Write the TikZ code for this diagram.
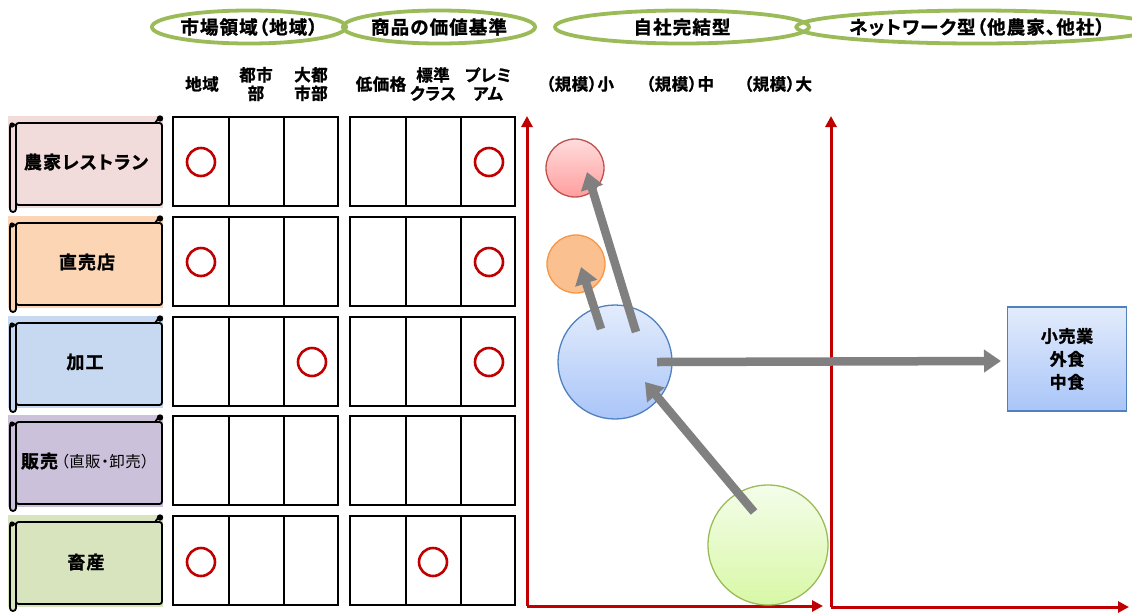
\documentclass[tikz,border=0pt]{standalone}
\usepackage{fontspec}
\setmainfont{Noto Sans CJK JP}[BoldFont={Noto Sans CJK JP Bold}, BoldFeatures={FakeBold=1.2}, RawFeature=+palt]
\usetikzlibrary{arrows.meta,shapes.geometric}
\definecolor{axred}{HTML}{C00000}
\definecolor{hgreen}{HTML}{9BBB59}
\definecolor{rowA}{HTML}{F2DCDB}
\definecolor{rowB}{HTML}{FCD5B5}
\definecolor{rowC}{HTML}{C6D9F1}
\definecolor{rowD}{HTML}{CCC1DA}
\definecolor{rowE}{HTML}{D7E4BD}
\definecolor{arrgray}{HTML}{808080}
\definecolor{bblue}{HTML}{4F81BD}
\definecolor{pinkedge}{HTML}{C0504D}
\definecolor{pinktop}{HTML}{FFDCDC}
\definecolor{pinkbot}{HTML}{FF9E9E}
\definecolor{oredge}{HTML}{F79646}
\definecolor{orfill}{HTML}{FAC090}
\definecolor{bluetop}{HTML}{E3ECFC}
\definecolor{bluebot}{HTML}{A9C5F8}
\definecolor{greentop}{HTML}{F4FDEA}
\definecolor{greenbot}{HTML}{D8F8A6}
\tikzset{
  hdr/.style={ellipse, draw=hgreen, line width=3.8pt, inner sep=0pt, font=\fontsize{18.5}{21}\selectfont\bfseries\addfontfeature{LetterSpace=6}},
  sub/.style={align=center, font=\fontsize{16.5}{18.5}\selectfont\bfseries\addfontfeature{LetterSpace=3}},
  rowlabel/.style={font=\fontsize{18}{20}\selectfont\bfseries\addfontfeature{LetterSpace=6}},
  gridline/.style={draw=black, line width=1.3pt},
  okmark/.style={circle, draw=axred, line width=2.6pt, minimum size=28pt, inner sep=0pt},
  axis/.style={draw=axred, line width=3pt, -{Triangle[length=11pt,width=11pt]}},
  garrow/.style={draw=arrgray, line width=8.5pt, -{Triangle[length=17pt,width=22pt]}},
  scrollline/.style={draw=black, line width=1.8pt},
}
\newcommand\myscroll[2]{%
  \begin{scope}[shift={(0,#1)}]
    \fill[#2] (8,0) rectangle (163,92);
    \draw[scrollline, fill=#2, rounded corners=2.5pt] (16,7) rectangle (162,89);
    \draw[scrollline, fill=#2, rounded corners=3pt] (10,8) rectangle (16,96);
    \fill[black] (12,9) circle (2.6);
    \draw[scrollline] (155,7) -- (158,3);
    \fill[black] (160,2.5) circle (3.2);
  \end{scope}}
\newcommand\mygrid[2]{%
  \draw[gridline] (#1,#2) rectangle ++(165,89);
  \draw[gridline] ({#1+56},#2) -- ++(0,89);
  \draw[gridline] ({#1+111},#2) -- ++(0,89);}
\begin{document}
\begin{tikzpicture}[x=1pt,y=-1pt]
\useasboundingbox (0,0) rectangle (1132,614);

% headers
\node[hdr, minimum width=166pt, minimum height=33pt] (h1) at (249,27) {市場領域（地域）};
\node[hdr, minimum width=184pt, minimum height=33pt] (h2) at (439,27) {商品の価値基準};
\node[hdr, minimum width=254pt, minimum height=33pt] (h3) at (682,27) {自社完結型};
\node[hdr, minimum width=306pt, minimum height=33pt] (h4) at (977,27) {ネットワーク型（他農家、他社）};

% sub headers
\node[sub] (s1) at (202,84) {地域};
\node[sub] (s2) at (256,84) {都市\\部};
\node[sub] (s3) at (311,84) {大都\\市部};
\node[sub] (s4) at (381,84) {低価格};
\node[sub] (s5) at (433,84) {標準\\クラス};
\node[sub] (s6) at (488,84) {プレミ\\アム};
\node[sub] (s7) at (580,84) {（規模）小};
\node[sub] (s8) at (680,84) {（規模）中};
\node[sub] (s9) at (778,84) {（規模）大};

% scroll rows
\myscroll{116}{rowA}
\myscroll{216}{rowB}
\myscroll{316}{rowC}
\myscroll{415}{rowD}
\myscroll{515}{rowE}
\node[rowlabel] (r1) at (86,162) {農家レストラン};
\node[rowlabel] (r2) at (87,262) {直売店};
\node[rowlabel] (r3) at (85,362) {加工};
\node[rowlabel, inner sep=0pt] (r4) at (85,461) {販売\hspace{3pt}{\mdseries\fontsize{15.5}{17}\selectfont\addfontfeature{LetterSpace=3}（直販・卸売）}};
\node[rowlabel] (r5) at (86,562) {畜産};

% grids
\mygrid{173}{117}\mygrid{350}{117}
\mygrid{173}{217}\mygrid{350}{217}
\mygrid{173}{317}\mygrid{350}{317}
\mygrid{173}{416}\mygrid{350}{416}
\mygrid{173}{516}\mygrid{350}{516}

% check circles
\node[okmark] (m1) at (201,162) {};
\node[okmark] (m2) at (489,162) {};
\node[okmark] (m3) at (201,262) {};
\node[okmark] (m4) at (489,262) {};
\node[okmark] (m5) at (312,362) {};
\node[okmark] (m6) at (489,362) {};
\node[okmark] (m7) at (201,562) {};
\node[okmark] (m8) at (433,562) {};

% axes
\coordinate (o1) at (527,606);
\coordinate (y1) at (527,116);
\coordinate (x1) at (823,606);
\coordinate (o2) at (831,607);
\coordinate (y2) at (831,116);
\coordinate (x2) at (1129,607);
\draw[axis] (o1) -- (y1);
\draw[axis] (o1) -- (x1);
\draw[axis] (o2) -- (y2);
\draw[axis] (o2) -- (x2);

% bubbles
\node[circle, draw=pinkedge, line width=1.3pt, top color=pinktop, bottom color=pinkbot, minimum size=58pt, inner sep=0pt] (pinkc) at (575,168) {};
\node[circle, draw=oredge, line width=1.3pt, fill=orfill, minimum size=58pt, inner sep=0pt] (orc) at (576,264) {};
\node[circle, draw=bblue, line width=1.3pt, top color=bluetop, bottom color=bluebot, minimum size=114pt, inner sep=0pt] (bluec) at (615,362) {};
\node[circle, draw=hgreen, line width=1.3pt, top color=greentop, bottom color=greenbot, minimum size=120pt, inner sep=0pt] (greenc) at (768,545) {};

% market box
\node[draw=bblue, line width=1.3pt, top color=bluetop, bottom color=bluebot, minimum width=119pt, minimum height=104pt, align=center, font=\fontsize{17}{23}\selectfont\bfseries\addfontfeature{LetterSpace=4}] (mkt) at (1067,359) {小売業\\外食\\中食};

% gray arrows
\coordinate (a1s) at (636,332);
\coordinate (a1e) at (587,172);
\coordinate (a2s) at (601,329);
\coordinate (a2e) at (581,267);
\coordinate (a3s) at (657,362);
\coordinate (a3e) at (1001,361);
\coordinate (a4s) at (754,512);
\coordinate (a4e) at (645,382);
\draw[garrow] (a1s) -- (a1e);
\draw[garrow] (a2s) -- (a2e);
\draw[garrow] (a3s) -- (a3e);
\draw[garrow] (a4s) -- (a4e);
\end{tikzpicture}
\end{document}
